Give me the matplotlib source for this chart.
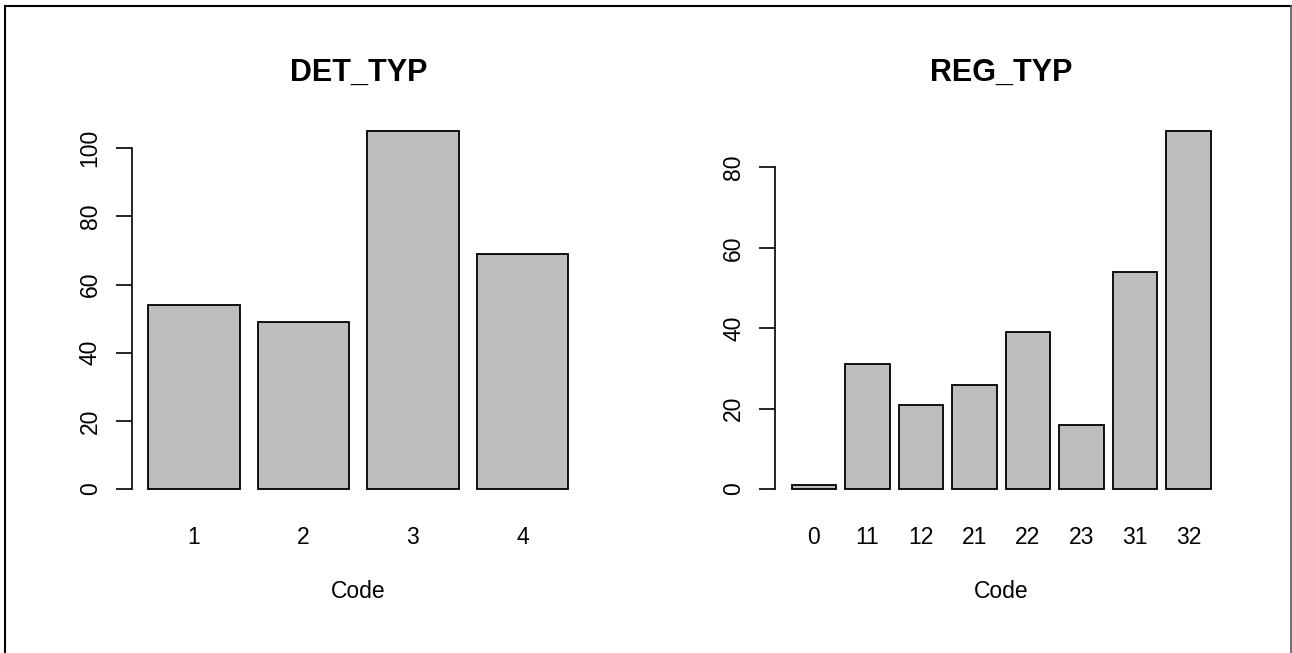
import numpy as np
import matplotlib.pyplot as plt
from matplotlib.lines import Line2D

# Dados
det_codes = ['1', '2', '3', '4']
det_counts = [54, 49, 105, 69]

reg_codes = ['0', '11', '12', '21', '22', '23', '31', '32']
reg_counts = [1, 31, 21, 26, 39, 16, 54, 89]

tick_font = ['Liberation Sans Narrow', 'Liberation Sans', 'DejaVu Sans']
title_font = ['Liberation Sans', 'DejaVu Sans']

W, H = 1292, 653
fig = plt.figure(figsize=(W / 100, H / 100), dpi=100)


def barplot_r(ax, codes, counts, title, yticks):
    # imita o barplot do R: largura 1, espaco 0.2
    n = len(codes)
    left = 0.2 + 1.2 * np.arange(n)
    ax.bar(left, counts, width=1.0, align='edge', color='#bebebe',
           edgecolor='black', linewidth=1.3)
    lo, hi = left[0], left[-1] + 1.0
    pad = 0.04 * (hi - lo)
    ax.set_xlim(lo - pad, hi + pad)
    ymax = max(counts)
    ax.set_ylim(-0.04 * ymax, ymax * 1.04)

    ax.set_xticks(left + 0.5)
    ax.set_xticklabels(codes, family=tick_font, fontsize=16.5)
    ax.tick_params(axis='x', length=0, pad=16)

    ax.set_yticks(yticks)
    ax.set_yticklabels([str(v) for v in yticks], family=tick_font,
                       fontsize=16.5, rotation=90, va='center')
    ax.tick_params(axis='y', length=11.5, width=1.2, pad=10)

    for s in ['top', 'right', 'bottom']:
        ax.spines[s].set_visible(False)
    ax.spines['left'].set_bounds(yticks[0], yticks[-1])
    ax.spines['left'].set_linewidth(1.2)

    ax.set_xlabel('Code', family=tick_font, fontsize=16.5, labelpad=23)
    ax.set_title(title, family=title_font, fontsize=22, fontweight='bold', pad=26)


ax1 = fig.add_axes([0.1018, 0.2292, 0.3509, 0.5916])
barplot_r(ax1, det_codes, det_counts, 'DET_TYP', [0, 20, 40, 60, 80, 100])

ax2 = fig.add_axes([0.5998, 0.2292, 0.3502, 0.5916])
barplot_r(ax2, reg_codes, reg_counts, 'REG_TYP', [0, 20, 40, 60, 80])

# moldura (topo, esquerda e direita, como na imagem original)
top = 1 - 6 / H
fig.add_artist(Line2D([4.5 / W, 1], [top, top], color='black', linewidth=1.5,
                      transform=fig.transFigure))
fig.add_artist(Line2D([5 / W, 5 / W], [0, top], color='black', linewidth=1.5,
                      transform=fig.transFigure))
fig.add_artist(Line2D([1 - 1.5 / W, 1 - 1.5 / W], [0, top], color='#555555', linewidth=1.2,
                      transform=fig.transFigure))

fig.savefig('out.png', dpi=100)
